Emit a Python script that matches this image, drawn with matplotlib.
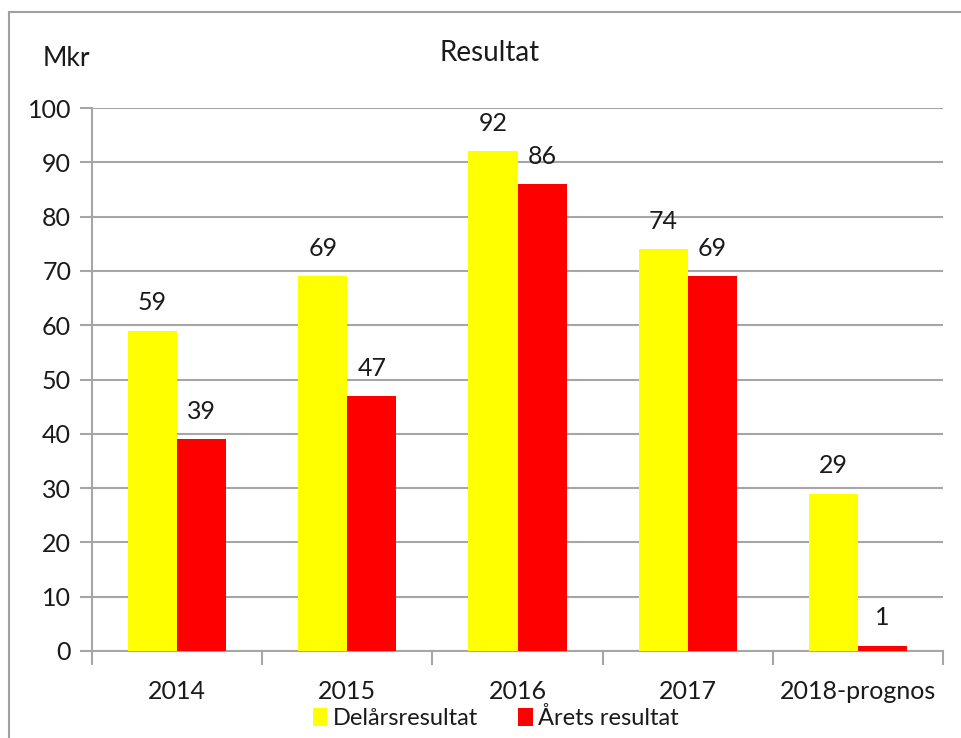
import matplotlib
matplotlib.use('Agg')
import matplotlib.pyplot as plt
import numpy as np

plt.rcParams['font.family'] = ['Lato', 'DejaVu Sans']

categories = ['2014', '2015', '2016', '2017', '2018-prognos']
delars = [59, 69, 92, 74, 29]
arets = [39, 47, 86, 69, 1]
yticks = [0, 10, 20, 30, 40, 50, 60, 70, 80, 90, 100]

grid_color = '#a6a6a6'
text_color = '#1a1a1a'

fig = plt.figure(figsize=(9.61, 7.38), dpi=100)
ax = fig.add_axes([92 / 961, 1 - 651 / 738, (943 - 92) / 961, (651 - 108) / 738])

x = np.arange(len(categories))
w = 0.288
b1 = ax.bar(x - w / 2, delars, w, color='#ffff00', label='Delårsresultat', zorder=3)
b2 = ax.bar(x + w / 2, arets, w, color='#ff0000', label='Årets resultat', zorder=3)

for bars, vals in ((b1, delars), (b2, arets)):
    for rect, v in zip(bars, vals):
        ax.text(rect.get_x() + rect.get_width() / 2, v + 3, str(v),
                ha='center', va='bottom', fontsize=18, color=text_color)

ax.set_xlim(-0.5, len(categories) - 0.5)
ax.set_ylim(0, 100)
ax.set_yticks(yticks)
ax.tick_params(axis='y', labelsize=18, length=9, width=1.5, color=grid_color, pad=6,
               labelcolor=text_color)
ax.set_xticks(x)
ax.set_xticklabels(categories, fontsize=18, color=text_color)
ax.tick_params(axis='x', length=0, pad=21)
# category boundary ticks
ax.set_xticks(np.arange(len(categories) + 1) - 0.5, minor=True)
ax.tick_params(axis='x', which='minor', length=10, width=1.5, color=grid_color)

ax.yaxis.grid(True, color=grid_color, linewidth=1.5, zorder=0)
for s in ('top', 'right'):
    ax.spines[s].set_visible(False)
for s in ('left', 'bottom'):
    ax.spines[s].set_color(grid_color)
    ax.spines[s].set_linewidth(1.5)

fig.text(490 / 961, 1 - 53 / 738, 'Resultat', ha='center', va='center', fontsize=20,
         color=text_color)
fig.text(66 / 961, 1 - 58 / 738, 'Mkr', ha='center', va='center', fontsize=19,
         color=text_color)

fig.legend(handles=[b1, b2], loc='center', bbox_to_anchor=(496 / 961, 1 - 718 / 738),
           ncol=2, frameon=False, fontsize=17, handlelength=0.6, handleheight=0.8,
           handletextpad=0.25, columnspacing=1.7, labelcolor=text_color)

# outer chart border
fig.add_artist(plt.Line2D([9 / 961, 9 / 961], [0, 1 - 12 / 738],
                          transform=fig.transFigure, color='#a0a0a0', linewidth=1.5))
fig.add_artist(plt.Line2D([9 / 961, 1], [1 - 12 / 738, 1 - 12 / 738],
                          transform=fig.transFigure, color='#a0a0a0', linewidth=1.5))

fig.savefig('out.png', dpi=100)
